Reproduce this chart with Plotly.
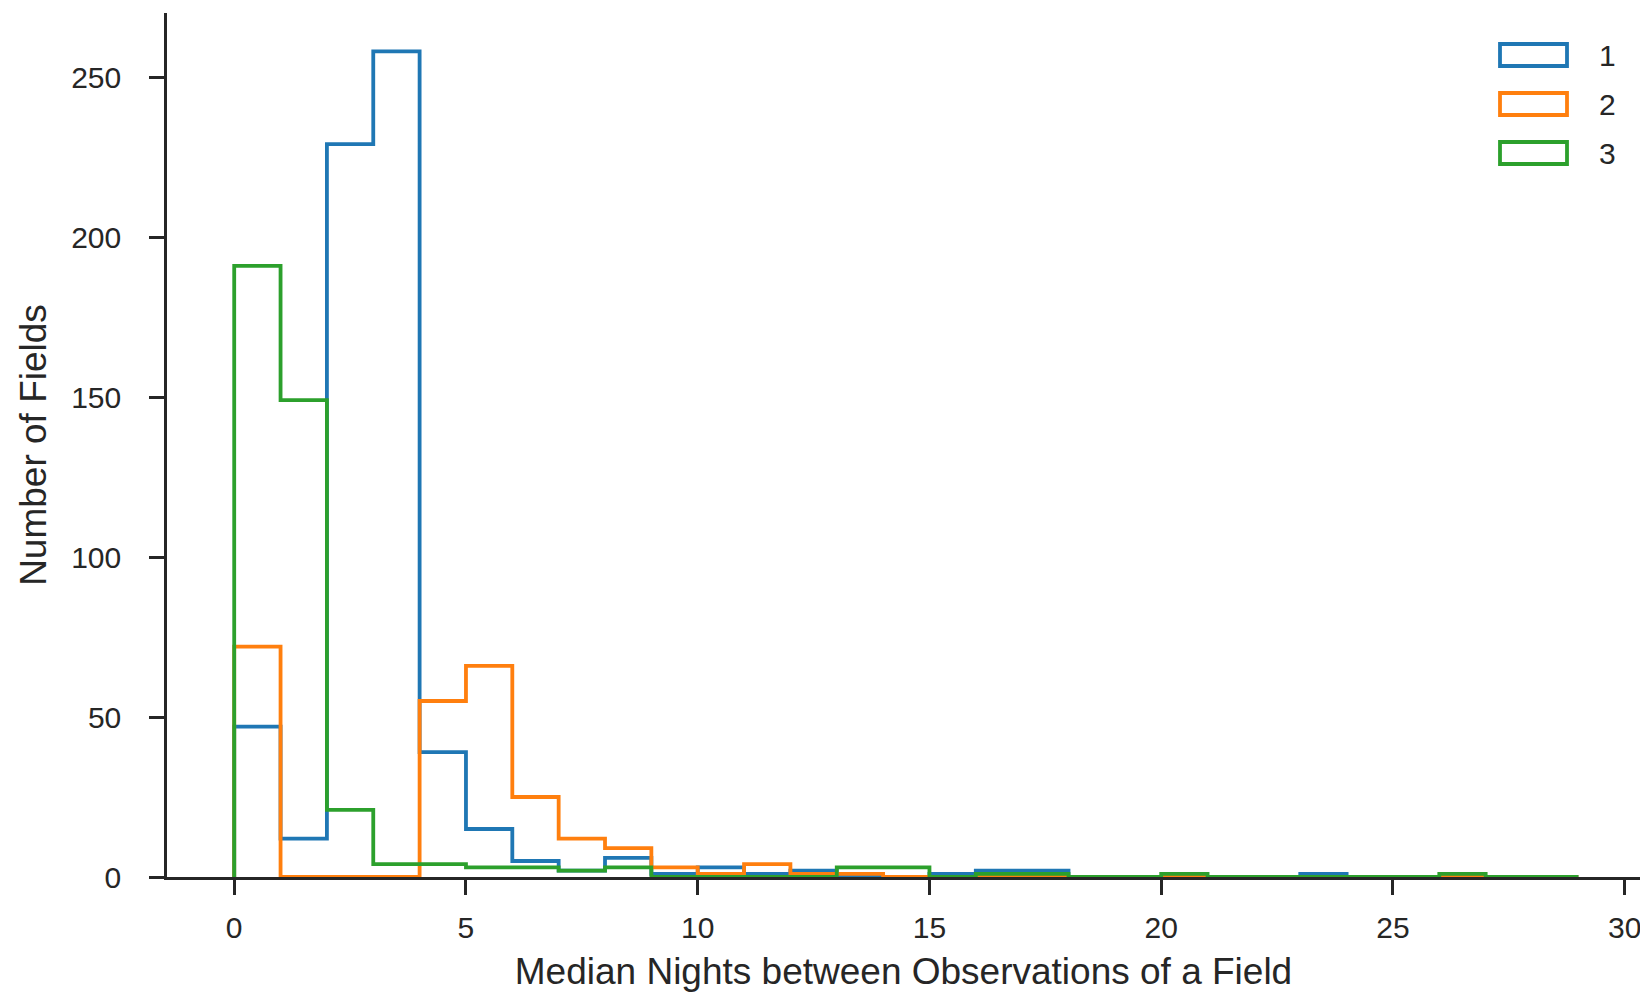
import plotly.graph_objects as go

# ---- data ----
bin_edges = list(range(0, 30))          # bins 0-1, 1-2, ..., 28-29
series_names = ["1", "2", "3"]
counts_1 = [47, 12, 229, 258, 39, 15, 5, 2, 6, 1, 3, 1, 2, 0, 0, 1, 2, 2, 0, 0, 0, 0, 0, 1, 0, 0, 0, 0, 0]
counts_2 = [72, 0, 0, 0, 55, 66, 25, 12, 9, 3, 1, 4, 1, 1, 0, 0, 0, 0, 0, 0, 0, 0, 0, 0, 0, 0, 0, 0, 0]
counts_3 = [191, 149, 21, 4, 4, 3, 3, 2, 3, 0, 0, 0, 0, 3, 3, 0, 1, 1, 0, 0, 1, 0, 0, 0, 0, 0, 1, 0, 0]
x_ticks = [0, 5, 10, 15, 20, 25, 30]
y_ticks = [0, 50, 100, 150, 200, 250]

colors = ["#1f77b4", "#ff7f0e", "#2ca02c"]
all_counts = [counts_1, counts_2, counts_3]

TXT = "#262626"
FONT = "Liberation Sans, Arial, sans-serif"
LW = 3.8

fig = go.Figure()
for name, cnts, col in zip(series_names, all_counts, colors):
    # step outline: rise at the first edge, step across each bin, fall at the last edge
    xs = [bin_edges[0]] + [bin_edges[i] for i in range(len(cnts))] + [bin_edges[0] + len(cnts)]
    ys = [0] + list(cnts) + [0]
    fig.add_trace(go.Scatter(x=xs, y=ys, mode="lines", name=name,
                             line=dict(color=col, width=LW, shape="hv"),
                             showlegend=False))

W, H = 1640, 993
L, T, B = 167, 13, 116
R = 0
pw = W - L - R
ph = H - T - B

def px(x):
    return (x - L) / pw

def py(y):
    return (H - B - y) / ph

# manual legend with outlined patches
shapes = []
annots = []
leg_rows = [55, 104, 153]
for name, col, cy in zip(series_names, colors, leg_rows):
    shapes.append(dict(type="rect", xref="paper", yref="paper",
                       x0=px(1500), x1=px(1567), y0=py(cy + 11), y1=py(cy - 11),
                       line=dict(color=col, width=LW), fillcolor="rgba(0,0,0,0)"))
    annots.append(dict(xref="paper", yref="paper", x=px(1607), y=py(cy),
                       text=name, showarrow=False, xanchor="center", yanchor="middle",
                       font=dict(size=30, color=TXT, family=FONT)))

fig.update_layout(
    width=W, height=H,
    margin=dict(l=L, r=R, t=T, b=B, pad=0),
    plot_bgcolor="white", paper_bgcolor="white",
    font=dict(family=FONT, color=TXT, size=30),
    shapes=shapes, annotations=annots,
    showlegend=False,
)
fig.update_xaxes(
    range=[-1.45, -1.45 + pw / 46.35],
    tickvals=x_ticks, ticktext=[str(v) for v in x_ticks],
    ticklabeloverflow="allow",
    showgrid=False, zeroline=False,
    showline=True, linecolor=TXT, linewidth=2.5,
    ticks="outside", ticklen=15, tickwidth=2.5, tickcolor=TXT,
    tickfont=dict(size=30, color=TXT, family=FONT),
    ticklabelstandoff=7,
    title=dict(text="Median Nights between Observations of a Field",
               font=dict(size=37, color=TXT, family=FONT), standoff=16),
)
fig.update_yaxes(
    range=[0, 270],
    tickvals=y_ticks, ticktext=[str(v) for v in y_ticks],
    showgrid=False, zeroline=False,
    showline=True, linecolor=TXT, linewidth=2.5,
    ticks="outside", ticklen=15, tickwidth=2.5, tickcolor=TXT,
    tickfont=dict(size=30, color=TXT, family=FONT),
    ticklabelstandoff=22,
    title=dict(text="Number of Fields",
               font=dict(size=37, color=TXT, family=FONT), standoff=14),
)

fig.write_html("out.html")
